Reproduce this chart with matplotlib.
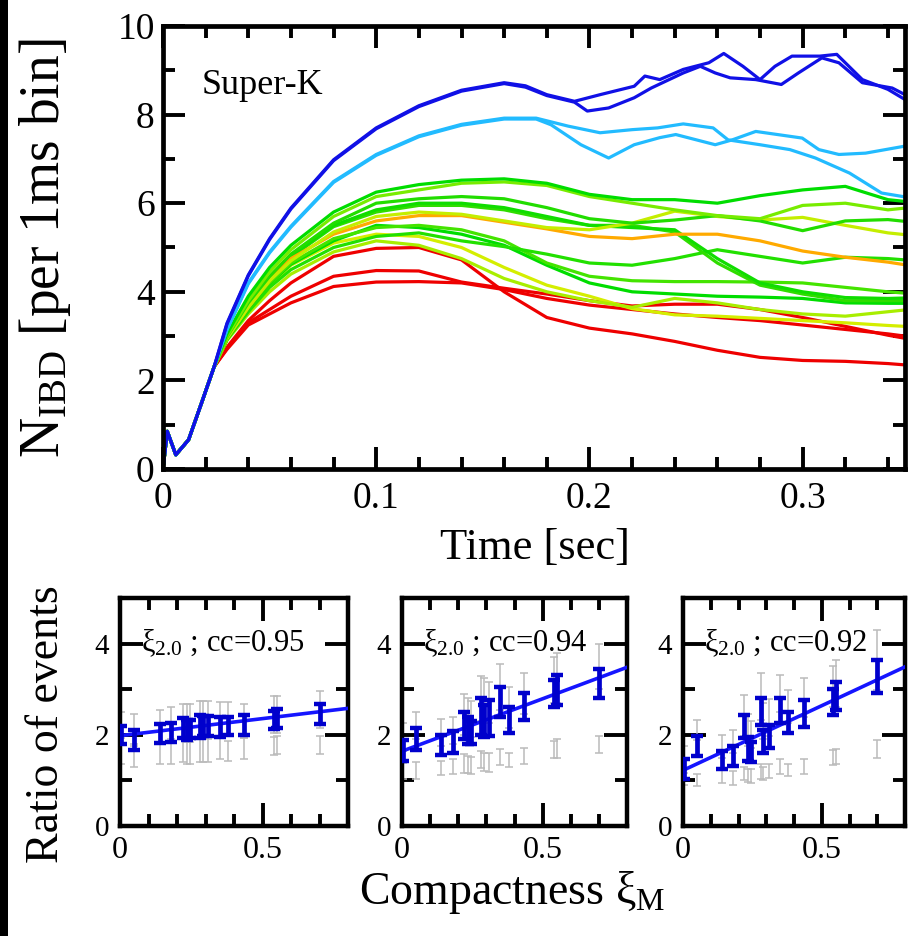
import matplotlib
matplotlib.use("Agg")
import matplotlib.pyplot as plt
from matplotlib.patches import Rectangle
from matplotlib.ticker import MultipleLocator, FixedLocator, FixedFormatter

plt.rcParams['font.family'] = ['Liberation Serif', 'DejaVu Serif']
plt.rcParams['mathtext.fontset'] = 'custom'
plt.rcParams['mathtext.rm'] = 'Liberation Serif'
plt.rcParams['mathtext.it'] = 'Liberation Serif:italic'
plt.rcParams['mathtext.bf'] = 'Liberation Serif:bold'

# ---------------- top panel data ----------------
EARLY_T = [0.0, 0.002, 0.006, 0.012, 0.018, 0.024]
EARLY_N = [0.0, 0.85, 0.32, 0.66, 1.48, 2.31]

T_MAIN = [0.03, 0.04, 0.05, 0.06, 0.08, 0.10, 0.12, 0.14, 0.16, 0.18, 0.20,
          0.22, 0.24, 0.26, 0.28, 0.30, 0.32, 0.34, 0.348]

red_a = [2.75, 3.35, 3.8, 4.2, 4.8, 4.98, 5.0, 4.72, 4.0, 3.42, 3.18, 3.05, 2.88, 2.68, 2.52, 2.45, 2.43, 2.38, 2.35]
red_b = [2.72, 3.3, 3.6, 3.9, 4.35, 4.48, 4.47, 4.22, 4.08, 3.95, 3.8, 3.68, 3.72, 3.72, 3.6, 3.42, 3.22, 3.02, 2.95]
red_c = [2.7, 3.25, 3.5, 3.75, 4.12, 4.22, 4.23, 4.2, 4.05, 3.85, 3.7, 3.6, 3.5, 3.42, 3.35, 3.25, 3.15, 3.05, 3.0]
green_a = [3.05, 3.9, 4.55, 5.05, 5.8, 6.25, 6.42, 6.52, 6.55, 6.45, 6.2, 6.08, 6.08, 6.0, 6.17, 6.3, 6.38, 6.08, 6.04]
lime_b = [3.0, 3.8, 4.45, 4.95, 5.7, 6.15, 6.3, 6.45, 6.48, 6.4, 6.15, 6.0, 5.85, 5.72, 5.65, 5.95, 6.0, 5.85, 5.89]
green_c = [2.98, 3.75, 4.35, 4.85, 5.55, 6.0, 6.1, 6.15, 6.1, 5.9, 5.65, 5.55, 5.62, 5.72, 5.6, 5.38, 5.6, 5.63, 5.59]
yellow_d = [2.95, 3.65, 4.25, 4.7, 5.35, 5.7, 5.8, 5.75, 5.6, 5.45, 5.4, 5.55, 5.82, 5.7, 5.62, 5.68, 5.5, 5.33, 5.29]
orange_e = [2.95, 3.65, 4.25, 4.75, 5.3, 5.6, 5.72, 5.72, 5.57, 5.42, 5.25, 5.2, 5.3, 5.3, 5.15, 4.92, 4.78, 4.67, 4.61]
green_f1 = [2.97, 3.72, 4.3, 4.8, 5.5, 5.85, 6.0, 6.0, 5.9, 5.7, 5.5, 5.45, 5.4, 4.75, 4.2, 4.0, 3.87, 3.85, 3.86]
green_f2 = [2.96, 3.7, 4.28, 4.78, 5.47, 5.8, 5.95, 5.95, 5.85, 5.65, 5.5, 5.5, 5.35, 4.65, 4.15, 3.95, 3.8, 3.8, 3.8]
green_g = [2.92, 3.55, 4.1, 4.5, 5.0, 5.25, 5.33, 5.15, 5.02, 4.85, 4.65, 4.6, 4.75, 4.95, 4.8, 4.65, 4.78, 4.75, 4.72]
yellow_h = [2.92, 3.6, 4.15, 4.6, 5.1, 5.3, 5.25, 5.0, 4.55, 4.15, 3.9, 3.62, 3.48, 3.45, 3.4, 3.35, 3.3, 3.24, 3.22]
green_i = [2.94, 3.65, 4.2, 4.65, 5.2, 5.45, 5.5, 5.4, 5.15, 4.65, 4.35, 4.25, 4.23, 4.23, 4.22, 4.2, 4.1, 4.0, 3.97]
green_j = [2.93, 3.62, 4.18, 4.62, 5.15, 5.5, 5.45, 5.3, 5.05, 4.6, 4.2, 4.0, 3.95, 3.9, 3.88, 3.85, 3.75, 3.74, 3.74]
lime_k = [2.9, 3.5, 4.0, 4.4, 4.9, 5.15, 5.05, 4.75, 4.3, 4.0, 3.8, 3.65, 3.85, 3.75, 3.6, 3.5, 3.45, 3.55, 3.59]

MID_CURVES = [
    (red_a, '#EE0000'), (red_b, '#EE0000'), (red_c, '#EE0000'),
    (yellow_h, '#D4EE00'), (lime_k, '#A8EE00'), (green_j, '#00DD00'),
    (green_i, '#44E400'), (green_g, '#22E000'), (green_f2, '#30DD00'),
    (green_f1, '#10DD00'), (orange_e, '#FFAA00'), (yellow_d, '#C4EE00'),
    (green_c, '#22DD00'), (lime_b, '#78EC00'), (green_a, '#00DD00'),
]

lb1_t = [0.03, 0.04, 0.05, 0.06, 0.08, 0.10, 0.12, 0.14, 0.16, 0.175, 0.19, 0.205, 0.22, 0.232,
         0.244, 0.258, 0.265, 0.28, 0.294, 0.306, 0.322, 0.337, 0.347]
lb1_n = [3.15, 4.2, 4.9, 5.48, 6.49, 7.1, 7.52, 7.78, 7.92, 7.92, 7.74, 7.59, 7.66, 7.7,
         7.79, 7.7, 7.43, 7.32, 7.21, 7.02, 6.68, 6.23, 6.15]
lb2_t = [0.03, 0.04, 0.05, 0.06, 0.08, 0.10, 0.12, 0.14, 0.16, 0.175, 0.182, 0.196, 0.209, 0.221,
         0.233, 0.2405, 0.259, 0.267, 0.278, 0.2998, 0.3076, 0.317, 0.3295, 0.347]
lb2_n = [3.14, 4.18, 4.88, 5.46, 6.47, 7.08, 7.5, 7.76, 7.9, 7.9, 7.77, 7.32, 7.02, 7.32,
         7.48, 7.55, 7.32, 7.43, 7.62, 7.47, 7.21, 7.1, 7.13, 7.28]

blue1_t = [0.03, 0.04, 0.05, 0.06, 0.08, 0.10, 0.12, 0.14, 0.16, 0.17, 0.18, 0.193, 0.205, 0.221,
           0.226, 0.233, 0.244, 0.256, 0.263, 0.272, 0.28, 0.287, 0.295, 0.308, 0.316, 0.328, 0.34, 0.348]
blue1_n = [3.29, 4.38, 5.2, 5.89, 6.98, 7.7, 8.2, 8.55, 8.72, 8.65, 8.45, 8.3, 8.45, 8.64,
           8.87, 8.79, 9.02, 9.17, 9.38, 9.09, 8.79, 9.09, 9.32, 9.32, 9.36, 8.79, 8.57, 8.34]
blue2_t = [0.03, 0.04, 0.05, 0.06, 0.08, 0.10, 0.12, 0.14, 0.16, 0.17, 0.18, 0.193, 0.199, 0.209,
           0.221, 0.229, 0.244, 0.252, 0.259, 0.266, 0.278, 0.29, 0.298, 0.309, 0.317, 0.328, 0.342, 0.348]
blue2_n = [3.27, 4.36, 5.18, 5.87, 6.96, 7.68, 8.18, 8.53, 8.7, 8.62, 8.43, 8.28, 8.08, 8.15,
           8.38, 8.6, 8.94, 9.09, 8.94, 8.83, 8.79, 8.68, 8.94, 9.28, 9.17, 8.72, 8.6, 8.45]

TOP_CURVES = [
    (lb1_t, lb1_n, '#22BBFF'), (lb2_t, lb2_n, '#22BBFF'),
    (blue1_t, blue1_n, '#1010E6'), (blue2_t, blue2_n, '#1010E6'),
]

TOP_XTICKS = [0, 0.1, 0.2, 0.3]
TOP_XLABELS = ['0', '0.1', '0.2', '0.3']
TOP_YTICKS = [0, 2, 4, 6, 8, 10]
TOP_YLABELS = ['0', '2', '4', '6', '8', '10']

# ---------------- bottom panels data ----------------
XI = [0.005, 0.05, 0.14, 0.18, 0.22, 0.235, 0.245, 0.28, 0.29, 0.31, 0.35, 0.38, 0.435, 0.54, 0.55, 0.70]

blue_p1 = [2.0, 1.88, 2.03, 2.05, 2.15, 2.1, 2.12, 2.18, 2.2, 2.2, 2.17, 2.2, 2.22, 2.33, 2.36, 2.45]
blue_p1_err = [0.2, 0.22, 0.2, 0.2, 0.22, 0.22, 0.2, 0.25, 0.22, 0.22, 0.22, 0.2, 0.22, 0.2, 0.2, 0.22]
greyu_p1 = [2.15, 2.1, 2.2, 2.25, 2.3, 2.3, 2.3, 2.35, 2.35, 2.35, 2.35, 2.35, 2.3, 2.45, 2.45, 2.55]
greyu_p1_err = [0.35, 0.35, 0.35, 0.35, 0.38, 0.38, 0.38, 0.4, 0.4, 0.4, 0.38, 0.38, 0.38, 0.4, 0.4, 0.4]
greyl_p1 = [1.65, 1.55, 1.6, 1.6, 1.65, 1.6, 1.6, 1.65, 1.65, 1.65, 1.7, 1.65, 1.7, 1.75, 1.78, 1.78]
greyl_p1_err = [0.28, 0.25, 0.25, 0.25, 0.25, 0.25, 0.25, 0.25, 0.25, 0.25, 0.22, 0.22, 0.22, 0.2, 0.2, 0.2]

blue_p2 = [1.66, 1.91, 1.77, 1.84, 2.2, 2.1, 2.05, 2.4, 2.3, 2.37, 2.72, 2.32, 2.62, 2.9, 2.98, 3.13]
blue_p2_err = [0.23, 0.24, 0.22, 0.25, 0.3, 0.3, 0.25, 0.4, 0.35, 0.4, 0.33, 0.28, 0.3, 0.3, 0.33, 0.32]
greyu_p2 = [1.95, 2.2, 2.05, 2.1, 2.45, 2.4, 2.35, 2.8, 2.75, 2.7, 3.05, 2.6, 2.9, 3.2, 3.25, 3.5]
greyu_p2_err = [0.3, 0.3, 0.3, 0.3, 0.45, 0.4, 0.4, 0.5, 0.5, 0.45, 0.5, 0.45, 0.45, 0.5, 0.55, 0.5]
greyl_p2 = [1.2, 1.22, 1.27, 1.31, 1.37, 1.35, 1.33, 1.46, 1.4, 1.39, 1.51, 1.45, 1.53, 1.68, 1.7, 1.79]
greyl_p2_err = [0.18, 0.18, 0.16, 0.16, 0.2, 0.18, 0.18, 0.18, 0.2, 0.2, 0.17, 0.15, 0.18, 0.18, 0.2, 0.18]

blue_p3 = [1.24, 1.75, 1.44, 1.53, 2.18, 1.69, 1.62, 2.51, 1.85, 1.96, 2.53, 2.27, 2.47, 2.72, 2.85, 3.28]
blue_p3_err = [0.22, 0.22, 0.2, 0.22, 0.25, 0.27, 0.22, 0.29, 0.25, 0.25, 0.27, 0.24, 0.29, 0.28, 0.3, 0.36]
greyu_p3 = [1.5, 2.1, 1.75, 1.85, 2.42, 2.1, 2.0, 2.84, 2.3, 2.38, 2.91, 2.62, 2.82, 3.05, 3.13, 3.64]
greyu_p3_err = [0.25, 0.22, 0.25, 0.25, 0.45, 0.35, 0.3, 0.51, 0.4, 0.4, 0.4, 0.36, 0.42, 0.45, 0.51, 0.66]
greyl_p3 = [1.04, 1.0, 1.1, 1.06, 1.15, 1.11, 1.1, 1.19, 1.15, 1.2, 1.31, 1.22, 1.31, 1.5, 1.53, 1.69]
greyl_p3_err = [0.13, 0.13, 0.16, 0.15, 0.15, 0.15, 0.15, 0.16, 0.15, 0.15, 0.16, 0.13, 0.16, 0.16, 0.16, 0.2]

FIT_X = [0.0, 0.8]
fit_p1 = [1.98, 2.58]
fit_p2 = [1.64, 3.48]
fit_p3 = [1.22, 3.49]

PANEL_TEXTS = ['0.95', '0.94', '0.92']

PANELS = [
    (blue_p1, blue_p1_err, greyu_p1, greyu_p1_err, greyl_p1, greyl_p1_err, fit_p1),
    (blue_p2, blue_p2_err, greyu_p2, greyu_p2_err, greyl_p2, greyl_p2_err, fit_p2),
    (blue_p3, blue_p3_err, greyu_p3, greyu_p3_err, greyl_p3, greyl_p3_err, fit_p3),
]

# ---------------- figure ----------------
W, H = 914, 936
fig = plt.figure(figsize=(W / 100, H / 100), dpi=100)
fig.patch.set_facecolor('white')


def fx(px):
    return px / W


def fy(py):
    return 1 - py / H


# left black strip (part of the reference image)
fig.patches.append(Rectangle((0, 0), fx(8), 1, transform=fig.transFigure,
                             facecolor='black', edgecolor='none', zorder=10))

ax = fig.add_axes([fx(163), fy(469), fx(905) - fx(163), fy(26) - fy(469)])
for c, col in MID_CURVES:
    ax.plot(EARLY_T + T_MAIN, EARLY_N + c, color=col, lw=2.3, solid_joinstyle='round')
for tt, nn, col in TOP_CURVES:
    ax.plot(EARLY_T + tt, EARLY_N + nn, color=col, lw=2.3, solid_joinstyle='round')

ax.set_xlim(0, 0.348)
ax.set_ylim(0, 10)
ax.xaxis.set_major_locator(FixedLocator(TOP_XTICKS))
ax.xaxis.set_major_formatter(FixedFormatter(TOP_XLABELS))
ax.xaxis.set_minor_locator(MultipleLocator(0.02))
ax.yaxis.set_major_locator(FixedLocator(TOP_YTICKS))
ax.yaxis.set_major_formatter(FixedFormatter(TOP_YLABELS))
ax.yaxis.set_minor_locator(MultipleLocator(1))
ax.tick_params(which='both', direction='in', top=True, right=True, width=2.8)
ax.tick_params(which='major', length=16, labelsize=27)
ax.tick_params(which='minor', length=8.5)
ax.tick_params(axis='x', which='major', pad=9)
ax.tick_params(axis='y', which='major', pad=6)
for s in ax.spines.values():
    s.set_linewidth(3.4)
ax.text(0.018, 8.65, 'Super-K', fontsize=26, ha='left', va='center')

fig.text(fx(45), fy(248), r'N$_{\mathregular{IBD}}$ [per 1ms bin]', rotation=90,
         fontsize=40, ha='center', va='center')
fig.text(fx(535), fy(548), 'Time [sec]', fontsize=32, ha='center', va='center')

# bottom panels
PANEL_X = [(120, 348), (402, 627), (683, 905)]
for (x0, x1), (by, be, gu, gue, gl, gle, fit), cc in zip(PANEL_X, PANELS, PANEL_TEXTS):
    a = fig.add_axes([fx(x0), fy(826), fx(x1) - fx(x0), fy(598) - fy(826)])
    a.errorbar(XI, gu, yerr=gue, fmt='none', ecolor='#BBBBBB', elinewidth=1.1,
               capsize=3.2, capthick=1.1, zorder=2)
    a.errorbar(XI, gl, yerr=gle, fmt='none', ecolor='#BBBBBB', elinewidth=1.1,
               capsize=3.2, capthick=1.1, zorder=2)
    a.plot(FIT_X, fit, color='#1515FF', lw=2.6, zorder=3)
    a.errorbar(XI, by, yerr=be, fmt='none', ecolor='#0000CC', elinewidth=3.4,
               capsize=4.5, capthick=3.2, zorder=4)
    a.set_xlim(0, 0.8)
    a.set_ylim(0, 5)
    a.xaxis.set_major_locator(FixedLocator([0, 0.5]))
    a.xaxis.set_major_formatter(FixedFormatter(['0', '0.5']))
    a.xaxis.set_minor_locator(MultipleLocator(0.1))
    a.yaxis.set_major_locator(FixedLocator([0, 2, 4]))
    a.yaxis.set_major_formatter(FixedFormatter(['0', '2', '4']))
    a.yaxis.set_minor_locator(MultipleLocator(1))
    a.tick_params(which='both', direction='in', top=True, right=True, width=2.8)
    a.tick_params(which='major', length=16.5)
    a.tick_params(which='minor', length=8.5)
    a.tick_params(axis='x', which='major', labelsize=23, pad=7)
    a.tick_params(axis='y', which='major', labelsize=21, pad=8)
    for s in a.spines.values():
        s.set_linewidth(3.2)
    a.text(0.075, 4.02, 'ξ' + r'$_{\mathregular{2.0}}$' + ' ; cc=' + cc, fontsize=22,
           ha='left', va='center', zorder=5)

fig.text(fx(47), fy(724), 'Ratio of events', rotation=90, fontsize=33,
         ha='center', va='center')
fig.text(fx(512), fy(893), 'Compactness ξ' + r'$_{\mathregular{M}}$', fontsize=33,
         ha='center', va='center')

fig.savefig('out.png', dpi=100, facecolor='white')
